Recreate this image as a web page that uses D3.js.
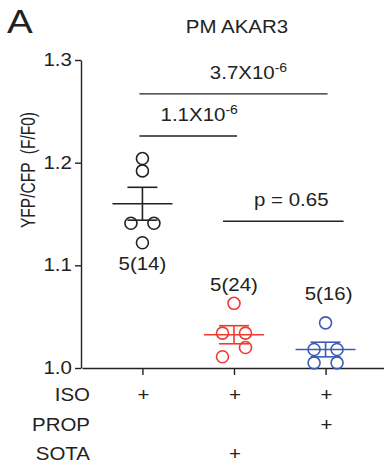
<!DOCTYPE html>
<html>
<head>
<meta charset="utf-8">
<script src="https://cdn.jsdelivr.net/npm/d3@7"></script>
<style>
  body { margin: 0; background: #fff; }
  text { font-family: "Liberation Sans", Arial, sans-serif; fill: #222; }
</style>
</head>
<body>
<div id="chart"></div>
<script>
// values
var groups = ["ISO", "ISO+SOTA", "ISO+PROP"];
var groupColors = ["#222222", "#ee3b2f", "#3c5bb5"];
var isoValues = [1.204, 1.192, 1.141, 1.141, 1.122];
var sotaValues = [1.063, 1.034, 1.034, 1.020, 1.011];
var propValues = [1.044, 1.018, 1.018, 1.005, 1.005];
var nLabels = ["5(14)", "5(24)", "5(16)"];
var yTicks = [1.0, 1.1, 1.2, 1.3];
var conditions = ["ISO", "PROP", "SOTA"];
var conditionSigns = [[1, 1, 1], [0, 0, 1], [0, 1, 0]];
var compPairs = [[0, 2], [0, 1], [1, 2]];
var compLevels = [1.267, 1.226, 1.143];
var compText = ["3.7X10", "1.1X10", "p = 0.65"];
var compExp = ["-6", "-6", ""];

var W = 384, H = 470, SX = 1.17;
var svg = d3.select("#chart").append("svg").attr("width", W).attr("height", H);

var y = d3.scaleLinear().domain([1.0, 1.3]).range([368, 60]);
var x = d3.scalePoint().domain(groups).range([82, 386]).padding(0.66);

// text is a bit wide in the original, stretch it horizontally
function label(x0, y0, str, size, anchor) {
  return svg.append("text")
    .attr("transform", "translate(" + x0 + "," + y0 + ") scale(" + SX + ",1)")
    .attr("text-anchor", anchor || "middle")
    .style("font-size", size + "px")
    .text(str);
}

label(7, 33, "A", 33, "start");
label(237, 33, "PM AKAR3", 17.5);

// y axis
var yAx = svg.append("g").attr("transform", "translate(81,0)")
  .call(d3.axisLeft(y).tickValues(yTicks).tickFormat(d3.format(".1f"))
    .tickSize(6).tickSizeOuter(0).tickPadding(1.8));
yAx.selectAll("text").style("font-size", "17.5px").attr("transform", "scale(" + SX + ",1)");
yAx.selectAll("path,line").attr("stroke", "#222").attr("stroke-width", 1.4);

svg.append("text")
  .attr("transform", "translate(35,170) rotate(-90) scale(1,1.3)")
  .attr("text-anchor", "middle")
  .style("font-size", "15.5px")
  .style("white-space", "pre")
  .text("YFP/CFP  (F/F0)");

// x axis
var xAx = svg.append("g").attr("transform", "translate(0,368)")
  .call(d3.axisBottom(x).tickSize(7).tickSizeOuter(0).tickFormat(""));
xAx.selectAll("path,line").attr("stroke", "#222").attr("stroke-width", 1.4);

// points, spread sideways when they sit on the same row
var allValues = [isoValues, sotaValues, propValues];
var r = 6, gap = 23;

allValues.forEach(function (vals, gi) {
  var cx = x(groups[gi]), col = groupColors[gi];
  var sorted = vals.slice().sort(d3.descending);
  var rows = [];
  sorted.forEach(function (v) {
    var last = rows[rows.length - 1];
    if (last && Math.abs(y(last[0]) - y(v)) < 10) last.push(v);
    else rows.push([v]);
  });
  var pts = [];
  rows.forEach(function (row) {
    row.sort(d3.ascending);
    row.forEach(function (v, i) {
      pts.push({ v: v, dx: (i - (row.length - 1) / 2) * gap });
    });
  });

  var g = svg.append("g");
  g.selectAll("circle").data(pts).enter().append("circle")
    .attr("cx", function (d) { return cx + d.dx; })
    .attr("cy", function (d) { return y(d.v); })
    .attr("r", r)
    .attr("fill", "none")
    .attr("stroke", col)
    .attr("stroke-width", 1.6);

  var m = d3.mean(vals), sem = d3.deviation(vals) / Math.sqrt(vals.length);
  var ln = function (x1, y1, x2, y2) {
    g.append("line").attr("x1", x1).attr("y1", y1).attr("x2", x2).attr("y2", y2)
      .attr("stroke", col).attr("stroke-width", 1.6);
  };
  ln(cx - 30, y(m), cx + 30, y(m));
  ln(cx, y(m + sem), cx, y(m - sem));
  ln(cx - 15, y(m + sem), cx + 15, y(m + sem));
  ln(cx - 15, y(m - sem), cx + 15, y(m - sem));
});

// n labels
var nPos = [[0, 270], [0, 291], [3, 300]];
nLabels.forEach(function (t, i) {
  label(x(groups[i]) + nPos[i][0], nPos[i][1], t, 17.5);
});

// comparison brackets
var ends = [[-3, 2], [-3, 3], [-11, 18]];
var textShift = [15, 11, 8];
compPairs.forEach(function (p, i) {
  var x1 = x(groups[p[0]]) + ends[i][0], x2 = x(groups[p[1]]) + ends[i][1];
  var yy = y(compLevels[i]);
  svg.append("line").attr("x1", x1).attr("x2", x2).attr("y1", yy).attr("y2", yy)
    .attr("stroke", "#222").attr("stroke-width", 1.4);
  var t = label((x1 + x2) / 2 + textShift[i], yy - 15, compText[i], 17.5);
  if (compExp[i]) {
    t.append("tspan").attr("dy", -7).style("font-size", "12px").text(compExp[i]);
  }
});

// treatment table
conditions.forEach(function (c, ri) {
  var yy = 401 + ri * 29.5;
  label(90, yy, c, 17.5, "end");
  conditionSigns[ri].forEach(function (s, gi) {
    if (s) label(x(groups[gi]) + 1, yy, "+", 17.5);
  });
});
</script>
</body>
</html>
